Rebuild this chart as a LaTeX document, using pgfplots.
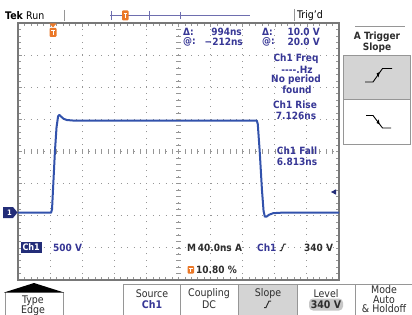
\documentclass[border=0pt]{standalone}
\usepackage{pgfplots}
\pgfplotsset{compat=1.18}
\usepackage{fontspec}
\setmainfont{DejaVu Sans Condensed}
\definecolor{trace}{RGB}{50,82,172}
\definecolor{meas}{RGB}{55,55,150}
\definecolor{tekorange}{RGB}{235,120,40}
\definecolor{gridc}{RGB}{150,150,150}
\definecolor{menutext}{RGB}{45,45,45}
\definecolor{chbox}{RGB}{35,45,120}
\definecolor{barc}{RGB}{110,110,175}
\definecolor{btngrey}{RGB}{212,212,212}
\newcommand\mf{\fontsize{10}{11}\selectfont\bfseries}
\newcommand\menuf{\fontsize{10.5}{11}\selectfont}
\begin{document}
\begin{tikzpicture}[x=1pt,y=1pt]
\path[use as bounding box, fill=white] (0,0) rectangle (412,-315);
\begin{axis}[
  at={(18pt,-280pt)}, anchor=south west,
  scale only axis, width=321pt, height=257pt,
  xmin=-5, xmax=5, ymin=-4, ymax=4,
  xtick={-5,...,5}, ytick={-4,...,4},
  xticklabels={}, yticklabels={},
  minor x tick num=4, minor y tick num=4,
  tick align=inside, tick pos=both,
  major tick length=3.5pt, minor tick length=3pt,
  every tick/.style={gridc, line width=0.6pt},
  axis line style={gridc!80!black, line width=1.3pt},
  grid=major,
  major grid style={gridc, line width=0.9pt, dash pattern=on 0.9pt off 5.52pt},
  clip=true,
]
\addplot[trace, line width=2pt, line join=round] coordinates {
(-5,-1.905) (-3.97,-1.905) (-3.94,-1.80) (-3.90,-1.0) (-3.85,0.0) (-3.80,0.75)
(-3.75,1.10) (-3.71,1.14) (-3.65,1.08) (-3.58,1.02) (-3.48,0.98) (-3.3,0.965)
(0,0.96) (2.44,0.96) (2.47,0.85) (2.53,0.0) (2.60,-1.2) (2.65,-1.85)
(2.69,-2.03) (2.74,-2.03) (2.82,-1.97) (2.95,-1.92) (3.2,-1.905) (5,-1.905)
};
\end{axis}
% centre crosshair ticks
\foreach \i in {1,...,49} { \draw[gridc, line width=0.6pt] ({18+\i*6.42},-149.2) -- ({18+\i*6.42},-153.8); }
\foreach \j in {1,...,39} { \draw[gridc, line width=0.6pt] (176.2,{-23-\j*6.425}) -- (180.8,{-23-\j*6.425}); }
% top bar
\node[anchor=west, inner sep=0pt] at (5,-16) {\fontsize{10.5}{11}\selectfont\bfseries Tek};
\node[anchor=west, inner sep=0pt] at (26,-16) {\fontsize{10.5}{11}\selectfont Run};
\draw[gridc, line width=0.8pt] (64,-10) -- (64,-21);
\draw[barc, line width=1pt] (110,-15.5) -- (250,-15.5);
\draw[barc, line width=1pt] (111,-11) -- (111,-20) (149,-11) -- (149,-20) (180,-12) -- (180,-19);
\fill[tekorange, rounded corners=1pt] (122,-10.5) rectangle (128.5,-20.5);
\draw[white, line width=0.7pt] (123.5,-13.5) -- (127,-13.5) (125.25,-13.5) -- (125.25,-18.5);
\draw[gridc, line width=0.8pt] (294,-9) -- (294,-21);
\node[anchor=west, inner sep=0pt] at (297,-15.5) {\fontsize{10.5}{11}\selectfont Trig'd};
% trigger position marker in graticule
\fill[tekorange] (49.5,-23.5) -- (56.5,-23.5) -- (53,-27.5) -- cycle;
\fill[tekorange, rounded corners=1pt] (49.5,-28) rectangle (56.5,-37);
\draw[white, line width=0.7pt] (51,-30.5) -- (55,-30.5) (53,-30.5) -- (53,-35.5);
% measurement readouts
\begin{scope}[every node/.style={inner sep=0pt, text=meas}]
\node[anchor=west] at (183,-32) {\mf Δ:};
\node[anchor=west] at (183,-42) {\mf @:};
\node[anchor=east] at (242,-32) {\mf 994ns};
\node[anchor=east] at (243,-42) {\mf −212ns};
\node[anchor=west] at (262,-32) {\mf Δ:};
\node[anchor=west] at (262,-42) {\mf @:};
\node[anchor=east] at (320,-32) {\mf 10.0 V};
\node[anchor=east] at (320,-42) {\mf 20.0 V};
\node at (296,-59) {\mf Ch1 Freq};
\node at (297,-70) {\mf {-}{-}{-}{-}.Hz};
\node at (296,-80) {\mf No period};
\node at (297,-90) {\mf found};
\node at (295,-105) {\mf Ch1 Rise};
\node at (296,-115.5) {\mf 7.126ns};
\node at (297,-151) {\mf Ch1 Fall};
\node at (297,-161.5) {\mf 6.813ns};
\node[anchor=west] at (53,-247.5) {\mf 500 V};
\node[anchor=west] at (257,-247.5) {\mf Ch1};
\end{scope}
% ch1 box
\fill[chbox] (20.5,-241.5) rectangle (42,-253);
\node[text=white, inner sep=0pt] at (31.2,-247.3) {\fontsize{9}{9}\selectfont\bfseries Ch1};
\node[anchor=west, text=menutext, inner sep=0pt] at (187,-247.5) {\mf M\,40.0ns};
\node[anchor=west, text=menutext, inner sep=0pt] at (235,-247.5) {\mf A};
\draw[menutext, line width=1pt] (279.5,-250.5) -- (281.5,-250.5) -- (284,-244) -- (286,-244);
\node[anchor=west, text=menutext, inner sep=0pt] at (304,-247.5) {\mf 340 V};
\fill[tekorange, rounded corners=0.8pt] (187.5,-266) rectangle (194,-273.5);
\draw[white, line width=0.6pt] (188.8,-268) -- (192.7,-268) (190.75,-268) -- (190.75,-272);
\node[anchor=west, text=menutext, inner sep=0pt] at (196,-270) {\mf 10.80 \%};
% ground marker and trigger level
\fill[chbox] (3,-207) -- (13,-207) -- (17.5,-212.5) -- (13,-218) -- (3,-218) -- cycle;
\node[text=white, inner sep=0pt] at (9.5,-212.5) {\fontsize{7.5}{8}\selectfont\bfseries 1};
\fill[chbox] (331,-192) -- (336,-189.3) -- (336,-194.7) -- cycle;
% right side panel
\draw[gridc, line width=0.8pt] (355,-26) -- (405,-26);
\node[text=menutext, inner sep=0pt] at (377,-37) {\fontsize{10}{10}\selectfont\bfseries A Trigger};
\node[text=menutext, inner sep=0pt] at (377,-47.5) {\fontsize{10}{10}\selectfont\bfseries Slope};
\filldraw[fill=btngrey, draw=gridc, line width=0.8pt] (343,-55) rectangle (410,-99);
\draw[fill=white, draw=gridc, line width=0.8pt] (343,-99) rectangle (410,-144);
\draw[black, line width=0.9pt] (365,-82) -- (373,-82) -- (382.5,-68.5) -- (392,-68.5);
\fill[black] (379.5,-72) -- (376.5,-73.5) -- (378.5,-77.5) -- cycle;
\draw[black, line width=0.9pt] (366,-115.5) -- (373,-115.5) -- (382.5,-128) -- (391,-128);
\fill[black] (379.5,-124.5) -- (376.5,-123) -- (378.8,-119.5) -- cycle;
% bottom menu
\fill[btngrey] (238,-284) rectangle (297,-315);
\draw[gridc, line width=0.8pt] (123,-284) -- (412,-284);
\foreach \xx in {123,180,238,297,355} { \draw[gridc, line width=0.8pt] (\xx,-284) -- (\xx,-315); }
\draw[gridc, line width=0.8pt] (5,-292) -- (5,-315) (63,-292) -- (63,-315);
\fill[black] (4,-292.5) -- (34,-283) -- (64,-292.5) -- cycle;
\begin{scope}[every node/.style={inner sep=0pt, text=menutext}]
\node at (33,-300.5) {\menuf Type};
\node at (33,-310.5) {\menuf Edge};
\node at (152,-294) {\menuf Source};
\node[text=meas] at (152,-304.5) {\menuf\bfseries Ch1};
\node at (209,-294) {\menuf Coupling};
\node at (209,-304.5) {\menuf DC};
\node at (268,-294) {\menuf Slope};
\node at (326,-294) {\menuf Level};
\node at (384,-290) {\menuf Mode};
\node at (384,-299.5) {\menuf Auto};
\node at (384,-309) {\menuf \& Holdoff};
\end{scope}
\draw[menutext, line width=1pt] (264,-307.5) -- (266,-307.5) -- (269,-301) -- (271,-301);
\fill[btngrey!85!gray, rounded corners=4pt] (309,-298.5) rectangle (343,-310.5);
\node[text=menutext, inner sep=0pt] at (326,-304.5) {\menuf\bfseries 340 V};
\end{tikzpicture}
\end{document}
